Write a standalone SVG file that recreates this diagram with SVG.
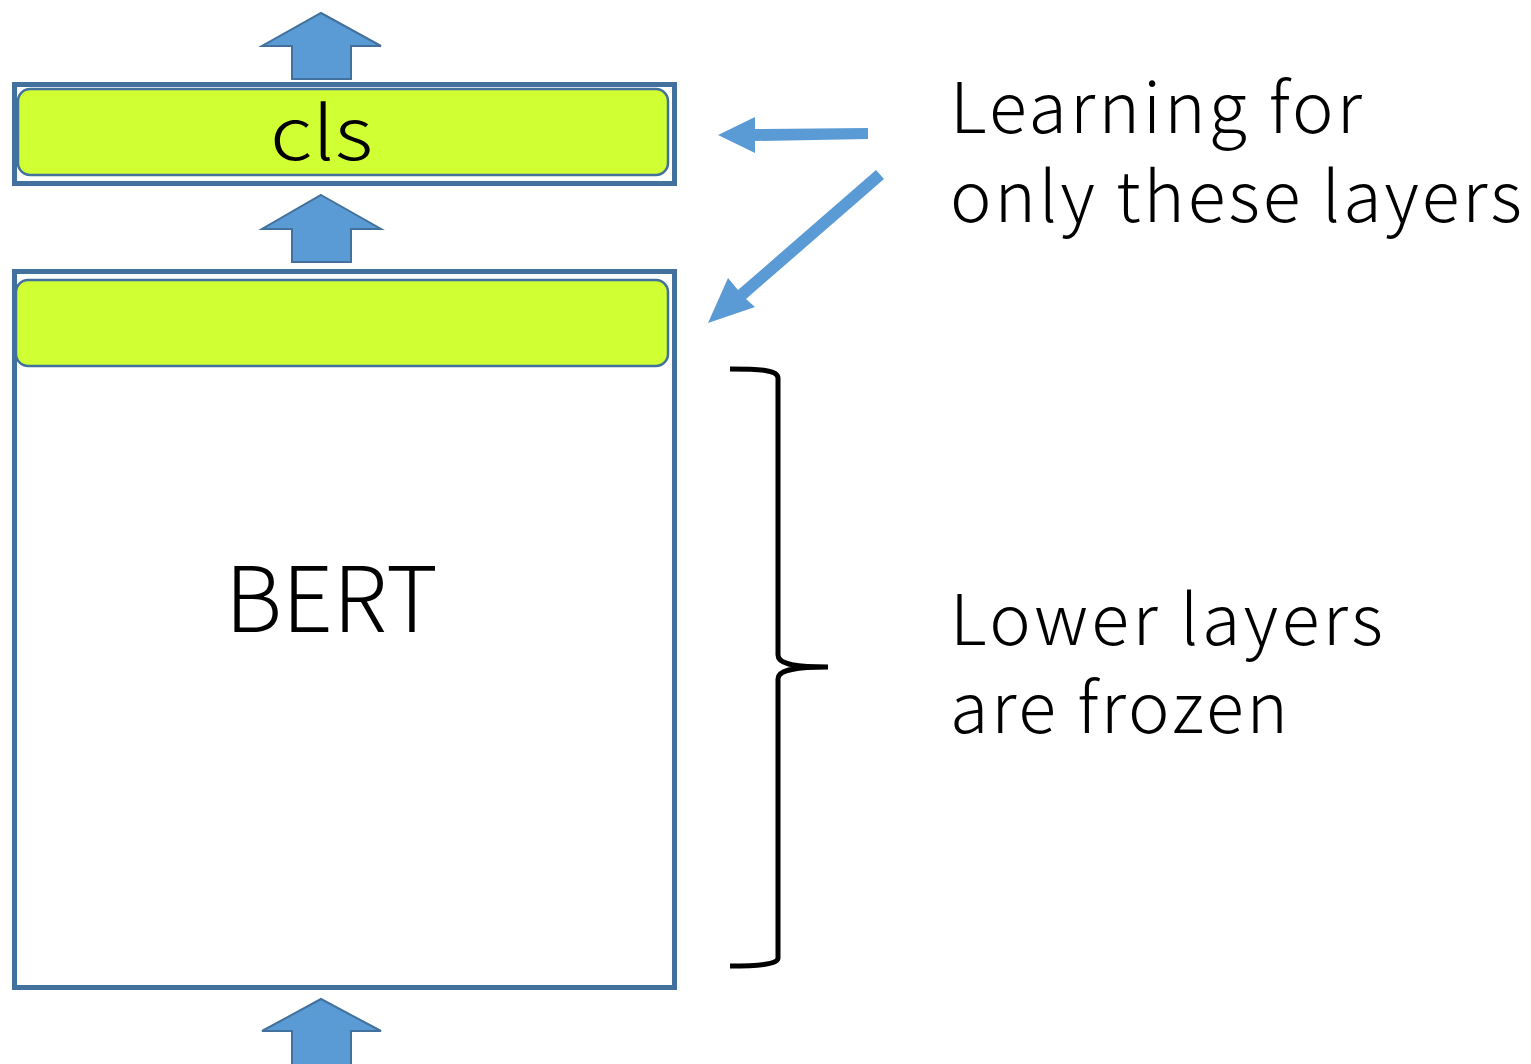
<svg xmlns="http://www.w3.org/2000/svg" width="1531" height="1064" viewBox="0 0 1531 1064">
<style>
.frame{fill:#fff;stroke:#41719C;stroke-width:5}
.layer{fill:#D0FF33;stroke:#41719C;stroke-width:2.5}
.up{fill:#5B9BD5;stroke:#41719C;stroke-width:2}
.txt{font-family:"Noto Sans CJK JP","Noto Sans",sans-serif;fill:#000;font-weight:300}
.side{font-size:70px}
</style>
<g id="arrow-top"><path class="up" d="M321,13 L381,46 L351,46 L351,79 L292,79 L292,46 L262,46 Z"/></g>
<g id="cls-box">
<rect class="frame" x="14.5" y="84.5" width="660" height="99"/>
<rect class="layer" x="18" y="89" width="650" height="86" rx="12"/>
<text class="txt" x="270" y="160" font-size="74" textLength="103" lengthAdjust="spacingAndGlyphs">cls</text>
</g>
<g id="arrow-mid"><path class="up" d="M321,195 L381,229 L351,229 L351,262 L292,262 L292,229 L262,229 Z"/></g>
<g id="bert-box">
<rect class="frame" x="14.5" y="271.5" width="660" height="716"/>
<rect class="layer" x="16" y="280" width="652" height="86" rx="12"/>
<text class="txt" x="225" y="632" font-size="90" textLength="213" lengthAdjust="spacingAndGlyphs">BERT</text>
</g>
<g id="arrow-bottom"><path class="up" d="M321,999 L381,1031 L351,1031 L351,1066 L292,1066 L292,1031 L262,1031 Z"/></g>
<g id="connectors">
<path fill="#5B9BD5" d="M868,128 L868,139 L755,141 L755,153 L718,135 L755,117 L755,129 Z"/>
<path fill="#5B9BD5" d="M876,170 L884,179 L746,299 L755,307 L708,323 L728,278 L738,290 Z"/>
<path fill="none" stroke="#000" stroke-width="5" d="M730,369 C760,369 778,370 778,378 L778,655 C778,663 790,667 828,667 C790,667 778,671 778,679 L778,958 C778,964 760,966 730,966"/>
</g>
<g id="label-learning">
<text class="txt side" x="950" y="133" textLength="412" lengthAdjust="spacing">Learning for</text>
<text class="txt side" x="950" y="222" textLength="572" lengthAdjust="spacing">only these layers</text>
</g>
<g id="label-frozen">
<text class="txt side" x="950" y="645" textLength="433" lengthAdjust="spacing">Lower layers</text>
<text class="txt side" x="950" y="733" textLength="338" lengthAdjust="spacing">are frozen</text>
</g>
</svg>
